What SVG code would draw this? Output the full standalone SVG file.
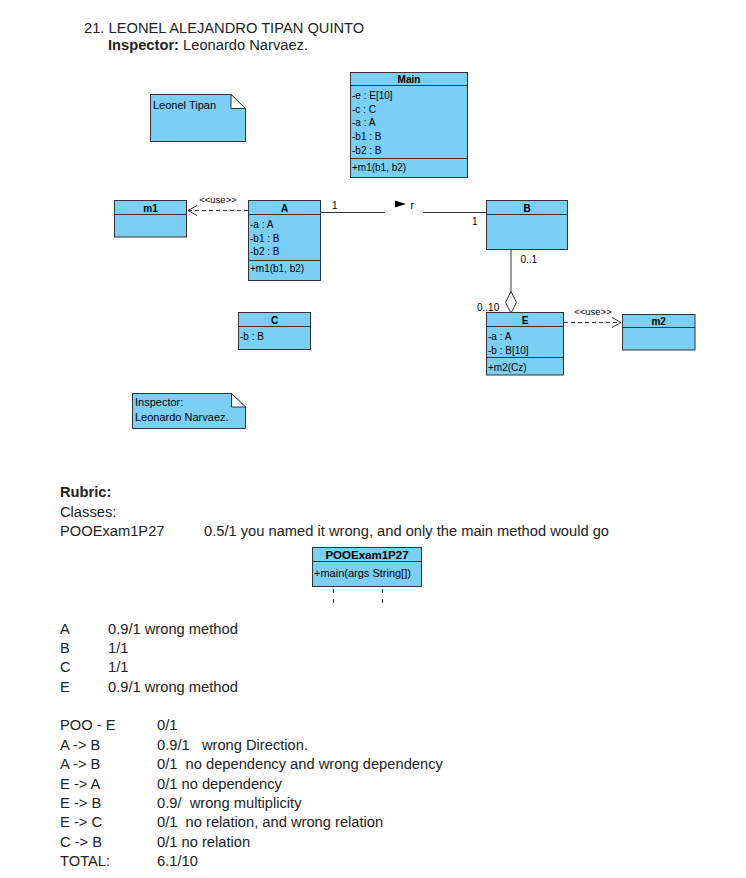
<svg xmlns="http://www.w3.org/2000/svg" width="746" height="878" viewBox="0 0 746 878">
<style>
.t{font-family:"Liberation Sans",Arial,sans-serif;font-size:14.7px;fill:#222;white-space:pre}
.b{font-weight:bold}
.s{font-family:"Liberation Sans",Arial,sans-serif;font-size:10px;fill:#000}
.n{font-family:"Liberation Sans",Arial,sans-serif;font-size:11px;fill:#000}
.u{font-family:"Liberation Sans",Arial,sans-serif;font-size:9.5px;fill:#000;text-anchor:middle}
.h{font-family:"Liberation Sans",Arial,sans-serif;font-size:10px;font-weight:bold;fill:#000;text-anchor:middle}
.box{fill:#7BCFF4;stroke:#333;stroke-width:1}
.fold{fill:#fff;stroke:#333;stroke-width:1}
.ln{stroke:#333;stroke-width:1;fill:none}
.dash{stroke:#333;stroke-width:1;fill:none;stroke-dasharray:4,3}
</style>
<rect width="746" height="878" fill="#fff"/>
<g id="header">
<text class="t" x="84" y="33">21. LEONEL ALEJANDRO TIPAN QUINTO</text>
<text class="t" x="108" y="50"><tspan class="b">Inspector:</tspan> Leonardo Narvaez.</text>
</g>
<g id="note-leonel">
<path class="box" d="M150.5,94.5 H231 L245.5,108.5 V141.5 H150.5 Z"/>
<path class="fold" d="M231,94.5 V108.5 H245.5 Z"/>
<text class="n" x="153" y="109">Leonel Tipan</text>
</g>
<g id="Main">
<rect class="box" x="350.5" y="72.5" width="117" height="105"/>
<line class="ln" x1="350.5" y1="85.5" x2="467.5" y2="85.5"/>
<line class="ln" x1="350.5" y1="158.5" x2="467.5" y2="158.5"/>
<text class="h" x="409" y="83.3">Main</text>
<text class="s" x="352" y="99.3">-e : E[10]</text>
<text class="s" x="352" y="112.9">-c : C</text>
<text class="s" x="352" y="126.3">-a : A</text>
<text class="s" x="352" y="139.9">-b1 : B</text>
<text class="s" x="352" y="153.5">-b2 : B</text>
<text class="s" x="352" y="170.9">+m1(b1, b2)</text>
</g>
<g id="m1">
<rect class="box" x="114.5" y="200.5" width="72" height="36.5"/>
<line class="ln" x1="114.5" y1="214.5" x2="186.5" y2="214.5"/>
<text class="h" x="150.5" y="212.3">m1</text>
</g>
<g id="A">
<rect class="box" x="248.5" y="200.5" width="72" height="80"/>
<line class="ln" x1="248.5" y1="214.5" x2="320.5" y2="214.5"/>
<line class="ln" x1="248.5" y1="260.5" x2="320.5" y2="260.5"/>
<text class="h" x="284.5" y="212.3">A</text>
<text class="s" x="250" y="228">-a : A</text>
<text class="s" x="250" y="241.5">-b1 : B</text>
<text class="s" x="250" y="255">-b2 : B</text>
<text class="s" x="250" y="272">+m1(b1, b2)</text>
</g>
<g id="B">
<rect class="box" x="486.5" y="200.5" width="81" height="49"/>
<line class="ln" x1="486.5" y1="214.5" x2="567.5" y2="214.5"/>
<text class="h" x="527" y="212">B</text>
</g>
<g id="E">
<rect class="box" x="486.5" y="312.5" width="77" height="62.5"/>
<line class="ln" x1="486.5" y1="326.5" x2="563.5" y2="326.5"/>
<line class="ln" x1="486.5" y1="357.5" x2="563.5" y2="357.5"/>
<text class="h" x="525" y="324.3">E</text>
<text class="s" x="488" y="339.6">-a : A</text>
<text class="s" x="488" y="353.6">-b : B[10]</text>
<text class="s" x="488" y="371.3">+m2(Cz)</text>
</g>
<g id="m2">
<rect class="box" x="622.5" y="314.5" width="72.5" height="35.5"/>
<line class="ln" x1="622.5" y1="327.5" x2="695" y2="327.5"/>
<text class="h" x="658.7" y="324.6">m2</text>
</g>
<g id="C">
<rect class="box" x="238.5" y="312.5" width="72" height="37"/>
<line class="ln" x1="238.5" y1="326.5" x2="310.5" y2="326.5"/>
<text class="h" x="274.5" y="324.3">C</text>
<text class="s" x="240" y="339.6">-b : B</text>
</g>
<g id="note-inspector">
<path class="box" d="M132.5,393.5 H231.5 L245.5,407 V428.5 H132.5 Z"/>
<path class="fold" d="M231.5,393.5 V407 H245.5 Z"/>
<text class="n" x="135" y="405.7">Inspector:</text>
<text class="n" x="135" y="421.3">Leonardo Narvaez.</text>
</g>
<g id="connectors">
<line class="dash" x1="248" y1="210.5" x2="188" y2="210.5"/>
<path class="ln" d="M197,205.5 L188,210.5 L197,215.5"/>
<text class="u" x="218" y="203.4">&lt;&lt;use&gt;&gt;</text>
<line class="ln" x1="320.5" y1="212.5" x2="385" y2="212.5"/>
<line class="ln" x1="423" y1="212.5" x2="486.5" y2="212.5"/>
<polygon points="395,200.5 406,204 395,207.5" fill="#000"/>
<text class="s" x="410.5" y="208.6">r</text>
<text class="s" x="332" y="208.6">1</text>
<text class="s" x="472" y="225.3">1</text>
<line class="ln" x1="511" y1="249.5" x2="511" y2="291.5"/>
<polygon class="fold" points="511,291.5 516.5,302.5 511,313 505.5,302.5"/>
<text class="s" x="520.5" y="262.9">0..1</text>
<text class="s" x="477" y="310.9">0..10</text>
<line class="dash" x1="564" y1="322.5" x2="621" y2="322.5"/>
<path class="ln" d="M612,317.5 L621,322.5 L612,327.5"/>
<text class="u" x="593" y="315">&lt;&lt;use&gt;&gt;</text>
</g>
<g id="rubric">
<text class="t b" x="60" y="497">Rubric:</text>
<text class="t" x="60" y="517">Classes:</text>
<text class="t" x="60" y="536">POOExam1P27</text>
<text class="t" x="204" y="536">0.5/1 you named it wrong, and only the main method would go</text>
<text class="t" x="60" y="634">A</text><text class="t" x="108" y="634">0.9/1 wrong method</text>
<text class="t" x="60" y="653">B</text><text class="t" x="108" y="653">1/1</text>
<text class="t" x="60" y="672">C</text><text class="t" x="108" y="672">1/1</text>
<text class="t" x="60" y="692">E</text><text class="t" x="108" y="692">0.9/1 wrong method</text>
<text class="t" x="60" y="730">POO - E</text><text class="t" x="157" y="730">0/1</text>
<text class="t" x="60" y="750">A -&gt; B</text><text class="t" x="157" y="750">0.9/1   wrong Direction.</text>
<text class="t" x="60" y="769">A -&gt; B</text><text class="t" x="157" y="769">0/1  no dependency and wrong dependency</text>
<text class="t" x="60" y="789">E -&gt; A</text><text class="t" x="157" y="789">0/1 no dependency</text>
<text class="t" x="60" y="808">E -&gt; B</text><text class="t" x="157" y="808">0.9/  wrong multiplicity</text>
<text class="t" x="60" y="827">E -&gt; C</text><text class="t" x="157" y="827">0/1  no relation, and wrong relation</text>
<text class="t" x="60" y="847">C -&gt; B</text><text class="t" x="157" y="847">0/1 no relation</text>
<text class="t" x="60" y="866">TOTAL:</text><text class="t" x="157" y="866">6.1/10</text>
</g>
<g id="POOExam1P27">
<rect class="box" x="312.5" y="547.5" width="109" height="39"/>
<line class="ln" x1="312.5" y1="561.5" x2="421.5" y2="561.5"/>
<text class="h" x="367" y="559.2" style="font-size:11.5px">POOExam1P27</text>
<text class="s" x="314" y="577" style="font-size:11px">+main(args String[])</text>
<line class="ln" x1="333.5" y1="589" x2="333.5" y2="603" stroke-dasharray="4,6"/>
<line class="ln" x1="382.5" y1="589" x2="382.5" y2="603" stroke-dasharray="4,6"/>
</g>
</svg>
